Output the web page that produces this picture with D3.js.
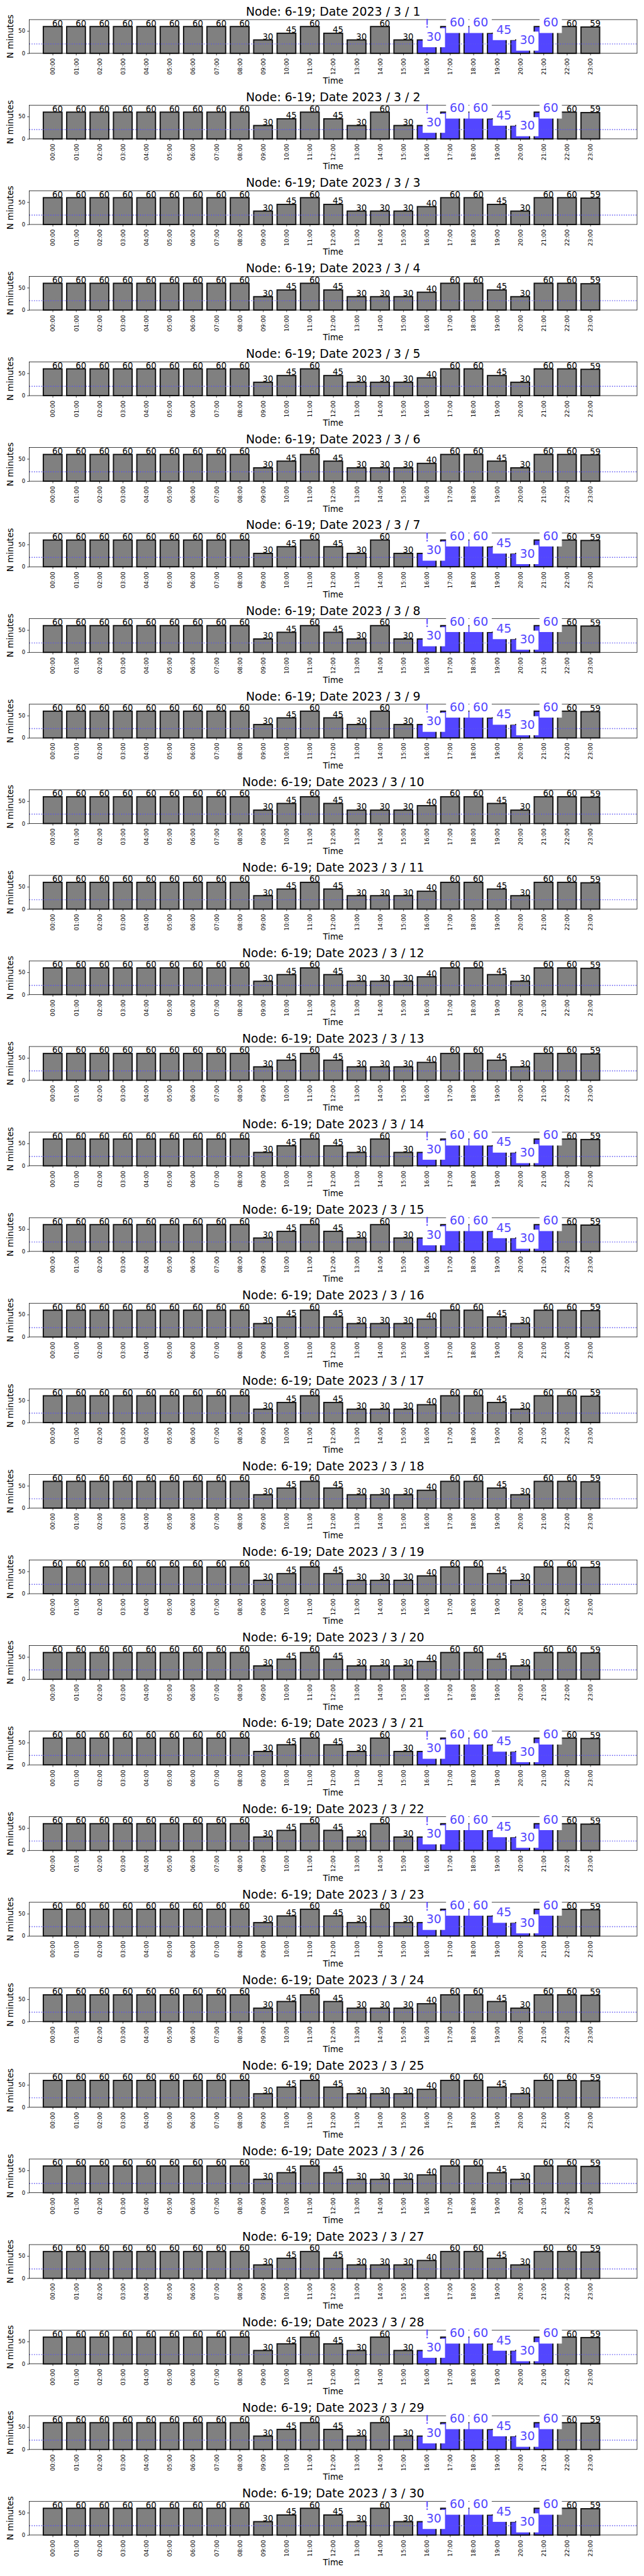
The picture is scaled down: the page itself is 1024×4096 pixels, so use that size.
<!DOCTYPE html>
<html><head><meta charset="utf-8">
<script src="https://cdn.jsdelivr.net/npm/d3@7"></script>
<style>body{margin:0;background:#fff}svg{display:block}</style>
</head><body>
<script>
// ---------- data ----------
const node = "6-19";
const hours = ["00:00","01:00","02:00","03:00","04:00","05:00","06:00","07:00","08:00","09:00","10:00","11:00",
               "12:00","13:00","14:00","15:00","16:00","17:00","18:00","19:00","20:00","21:00","22:00","23:00"];
const dates = [1,2,3,4,5,6,7,8,9,10,11,12,13,14,15,16,17,18,19,20,21,22,23,24,25,26,27,28,29,30];
// profile A: days with highlighted evening hours
const valuesA = [60,60,60,60,60,60,60,60,60,30,45,60,45,30,60,30,30,60,60,45,30,60,60,59];
// profile B: other days
const valuesB = [60,60,60,60,60,60,60,60,60,30,45,60,45,30,30,30,40,60,60,45,30,60,60,59];
const dayProfile = ["A","A","B","B","B","B","A","A","A","B","B","B","B","A","A",
                    "B","B","B","B","B","A","A","A","B","B","B","B","A","A","A"];
const highlightHours = ["16:00","17:00","18:00","19:00","20:00","21:00"];
const threshold = 21;
const yTicks = [0,50];
const yMax = 75.6;

// ---------- style / layout (reference pixels, scaled at the end) ----------
const S = 0.682;
const FONT = "DejaVu Sans";
const GRAY = "#808080", BLUE = "#5346ff", DOT = "#5a52f2";
const AX_L = 68.3, AX_R = 1485.3, AX_H = 78.6, TOP0 = 45.7, STEP = 199.52;
const blueLabelDy = {"16:00":2,"19:00":1,"20:00":10};

const svg = d3.select("body").append("svg").attr("width",1024).attr("height",4096);
svg.append("rect").attr("width",1024).attr("height",4096).attr("fill","#fff");
const root = svg.append("g").attr("transform",`scale(${S})`);

const x = d3.scaleLinear().domain([-1,25]).range([AX_L,AX_R]);
const y = d3.scaleLinear().domain([0,yMax]).range([AX_H,0]);
const barW = x(0.4) - x(-0.4);

dates.forEach((day,k) => {
  const prof = dayProfile[k];
  const vals = prof === "A" ? valuesA : valuesB;
  const data = hours.map((h,i) => ({h, i, v: vals[i], blue: prof === "A" && highlightHours.includes(h)}));
  const g = root.append("g").attr("transform",`translate(0,${TOP0 + k*STEP})`);

  // bars
  g.selectAll("rect.bar").data(data).join("rect").attr("class","bar")
    .attr("x", d => x(d.i) - barW/2).attr("y", d => y(d.v))
    .attr("width", barW).attr("height", d => y(0) - y(d.v))
    .attr("fill", d => d.blue ? BLUE : GRAY)
    .attr("stroke","#111").attr("stroke-width",2.8);

  // threshold dotted line
  g.append("line").attr("x1",AX_L).attr("x2",AX_R)
    .attr("y1",y(threshold)).attr("y2",y(threshold))
    .attr("stroke",DOT).attr("stroke-width",2.1).attr("stroke-dasharray","2.1,3.4");

  // spines
  g.append("rect").attr("x",AX_L).attr("y",0).attr("width",AX_R-AX_L).attr("height",AX_H)
    .attr("fill","none").attr("stroke","#000").attr("stroke-width",1.1);

  // x axis
  const xa = g.append("g").attr("transform",`translate(0,${AX_H})`)
    .call(d3.axisBottom(x).tickValues(d3.range(hours.length)).tickFormat(i => hours[i]).tickSize(4.9).tickSizeOuter(0));
  xa.select(".domain").remove();
  xa.selectAll(".tick line").attr("stroke","#000").attr("stroke-width",1.1);
  xa.selectAll(".tick text").attr("transform","rotate(-90)")
    .attr("x",-11.5).attr("y",0).attr("dy","0.36em").attr("text-anchor","end")
    .attr("font-family",FONT).attr("font-size",13.5).attr("fill","#000");

  // y axis
  const ya = g.append("g").attr("transform",`translate(${AX_L},0)`)
    .call(d3.axisLeft(y).tickValues(yTicks).tickSize(4.9).tickPadding(4.5).tickSizeOuter(0));
  ya.select(".domain").remove();
  ya.selectAll(".tick line").attr("stroke","#000").attr("stroke-width",1.1);
  ya.selectAll(".tick text").attr("font-family",FONT).attr("font-size",12.5).attr("fill","#000");

  // gray bar labels
  g.selectAll("text.lbl").data(data.filter(d => !d.blue)).join("text").attr("class","lbl")
    .attr("x", d => x(d.i) - 1).attr("y", d => y(d.v) - 1)
    .attr("font-family",FONT).attr("font-size",19.5).attr("fill","#000")
    .text(d => d.v);

  // highlighted labels with white boxes
  const fs = 27.8, pad = 0.3*fs;
  data.filter(d => d.blue).forEach(d => {
    const base = y(d.v) + (blueLabelDy[d.h] || 0);
    if (d.h === "16:00") {
      g.append("text").attr("x", x(d.i) + 1).attr("y", base - 30)
        .attr("text-anchor","middle").attr("font-family",FONT).attr("font-size",fs)
        .attr("fill",BLUE).text("!");
    }
    const lg = g.append("g");
    const r = lg.append("rect");
    const t = lg.append("text").attr("x", x(d.i) - 1).attr("y", base)
      .attr("font-family",FONT).attr("font-size",fs).attr("fill",BLUE).text(d.v);
    const w = t.node().getComputedTextLength();
    r.attr("x", x(d.i) - 1 - pad).attr("y", base - 0.76*fs - pad)
      .attr("width", w + 2*pad).attr("height", fs + 2*pad).attr("fill","#fff");
  });

  // title and axis labels
  g.append("text").attr("x",(AX_L+AX_R)/2).attr("y",-9).attr("text-anchor","middle")
    .attr("font-family",FONT).attr("font-size",27.8).attr("fill","#000")
    .text(`Node: ${node}; Date 2023 / 3 / ${day}`);
  g.append("text").attr("x",(AX_L+AX_R)/2).attr("y",AX_H + 71).attr("text-anchor","middle")
    .attr("font-family",FONT).attr("font-size",19.4).attr("fill","#000").text("Time");
  g.append("text").attr("transform",`translate(31.5,${AX_H/2}) rotate(-90)`).attr("text-anchor","middle")
    .attr("font-family",FONT).attr("font-size",20).attr("fill","#000").text("N minutes");
});
</script>
</body></html>
